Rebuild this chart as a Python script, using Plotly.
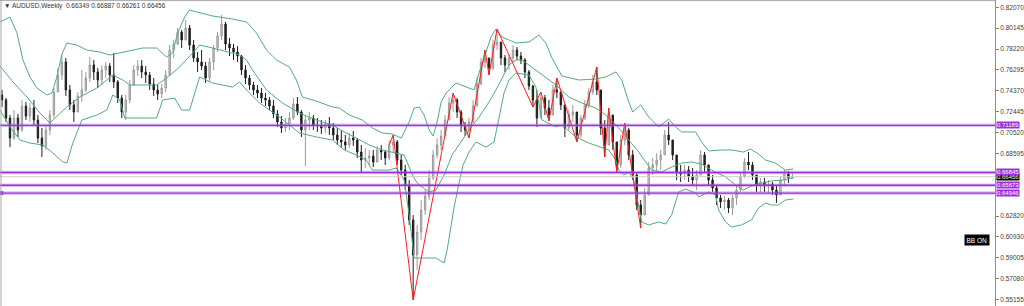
import plotly.graph_objects as go

# ---------------- data ----------------
symbol_title = "AUDUSD,Weekly  0.66349 0.66887 0.66261 0.66456"
first_open = 0.7399

closes = [0.7353, 0.7187, 0.7002, 0.7187, 0.7076, 0.7297, 0.7205, 0.7279, 0.7168, 0.7002,
          0.6929, 0.7076, 0.7214, 0.7426, 0.7583, 0.7703, 0.7445, 0.7307, 0.7242, 0.7390,
          0.7445, 0.7555, 0.7675, 0.7611, 0.7537, 0.7629, 0.7666, 0.7583, 0.7519, 0.7371,
          0.7242, 0.7353, 0.7491, 0.7629, 0.7666, 0.7611, 0.7583, 0.7500, 0.7445, 0.7408,
          0.7463, 0.7583, 0.7813, 0.7869, 0.7979, 0.7906, 0.8016, 0.7859, 0.7740, 0.7703,
          0.7666, 0.7555, 0.7703, 0.7832, 0.7943, 0.8053, 0.7869, 0.7832, 0.7795, 0.7758,
          0.7629, 0.7555, 0.7491, 0.7445, 0.7417, 0.7371, 0.7353, 0.7297, 0.7224, 0.7150,
          0.7095, 0.7131, 0.7187, 0.7316, 0.7242, 0.7076, 0.7168, 0.7187, 0.7122, 0.7113,
          0.7095, 0.7131, 0.7095, 0.7030, 0.6984, 0.6966, 0.6938, 0.7002, 0.6984, 0.6873,
          0.6800, 0.6818, 0.6836, 0.6781, 0.6892, 0.6873, 0.6818, 0.6938, 0.6966, 0.6800,
          0.6707, 0.6569, 0.6247, 0.5924, 0.6136, 0.6339, 0.6468, 0.6634, 0.6846, 0.6938,
          0.7021, 0.7168, 0.7325, 0.7353, 0.7242, 0.7113, 0.7076, 0.7150, 0.7297, 0.7500,
          0.7703, 0.7740, 0.7647, 0.7859, 0.7887, 0.7740, 0.7675, 0.7740, 0.7813, 0.7758,
          0.7721, 0.7611, 0.7482, 0.7353, 0.7187, 0.7371, 0.7279, 0.7214, 0.7445, 0.7426,
          0.7307, 0.7095, 0.7214, 0.7242, 0.7030, 0.7187, 0.7307, 0.7426, 0.7519, 0.7445,
          0.7095, 0.6938, 0.7214, 0.6966, 0.6754, 0.6984, 0.7076, 0.6846, 0.6661, 0.6385,
          0.6293, 0.6477, 0.6726, 0.6754, 0.6800, 0.6846, 0.7030, 0.6984, 0.6846, 0.6689,
          0.6671, 0.6707, 0.6652, 0.6615, 0.6661, 0.6846, 0.6754, 0.6615, 0.6542, 0.6449,
          0.6413, 0.6431, 0.6357, 0.6449, 0.6523, 0.6652, 0.6781, 0.6754, 0.6661, 0.6569,
          0.6597, 0.6560, 0.6578, 0.6523, 0.6477, 0.6615, 0.6671, 0.66349, 0.66456]

highs = [0.7445, 0.7371, 0.7214, 0.7260, 0.7224, 0.7353, 0.7334, 0.7325, 0.7353, 0.7214,
         0.7095, 0.7122, 0.7260, 0.7463, 0.7647, 0.7767, 0.7740, 0.7491, 0.7353, 0.7426,
         0.7629, 0.7611, 0.7749, 0.7721, 0.7647, 0.7675, 0.7703, 0.7693, 0.7786, 0.7537,
         0.7399, 0.7399, 0.7537, 0.7675, 0.7721, 0.7721, 0.7666, 0.7611, 0.7555, 0.7491,
         0.7500, 0.7629, 0.7859, 0.7906, 0.8016, 0.7998, 0.8090, 0.8044, 0.7906, 0.7795,
         0.7813, 0.7703, 0.7740, 0.7859, 0.7979, 0.8136, 0.8072, 0.7924, 0.7869, 0.7850,
         0.7767, 0.7675, 0.7583, 0.7519, 0.7491, 0.7463, 0.7417, 0.7380, 0.7353, 0.7260,
         0.7205, 0.7187, 0.7242, 0.7371, 0.7380, 0.7260, 0.7214, 0.7242, 0.7214, 0.7187,
         0.7168, 0.7168, 0.7196, 0.7141, 0.7095, 0.7076, 0.7030, 0.7049, 0.7067, 0.7002,
         0.6938, 0.6910, 0.6892, 0.6892, 0.6929, 0.6938, 0.6892, 0.6984, 0.7030, 0.6984,
         0.6846, 0.6754, 0.6615, 0.6293, 0.6201, 0.6431, 0.6523, 0.6707, 0.6892, 0.7002,
         0.7076, 0.7214, 0.7380, 0.7417, 0.7371, 0.7260, 0.7150, 0.7187, 0.7353, 0.7565,
         0.7740, 0.7813, 0.7740, 0.7906, 0.8007, 0.7859, 0.7767, 0.7767, 0.7859, 0.7841,
         0.7795, 0.7740, 0.7629, 0.7491, 0.7445, 0.7426, 0.7399, 0.7353, 0.7491, 0.7555,
         0.7426, 0.7307, 0.7260, 0.7307, 0.7242, 0.7214, 0.7353, 0.7463, 0.7583, 0.7657,
         0.7399, 0.7168, 0.7279, 0.7168, 0.6938, 0.7030, 0.7141, 0.7095, 0.6892, 0.6689,
         0.6431, 0.6542, 0.6781, 0.6818, 0.6864, 0.6892, 0.7076, 0.7150, 0.6984, 0.6800,
         0.6754, 0.6754, 0.6744, 0.6726, 0.6707, 0.6892, 0.6873, 0.6754, 0.6661, 0.6569,
         0.6477, 0.6468, 0.6449, 0.6477, 0.6569, 0.6689, 0.6818, 0.6873, 0.6781, 0.6661,
         0.6634, 0.6634, 0.6615, 0.6597, 0.6560, 0.6643, 0.6707, 0.6698, 0.66887]

lows = [0.7288, 0.7150, 0.6919, 0.6984, 0.7012, 0.7058, 0.7168, 0.7150, 0.7113, 0.6956,
        0.6827, 0.6892, 0.7030, 0.7187, 0.7426, 0.7537, 0.7390, 0.7260, 0.7150, 0.7242,
        0.7334, 0.7426, 0.7519, 0.7537, 0.7463, 0.7491, 0.7555, 0.7519, 0.7463, 0.7325,
        0.7187, 0.7168, 0.7325, 0.7491, 0.7574, 0.7555, 0.7509, 0.7445, 0.7390, 0.7353,
        0.7371, 0.7426, 0.7574, 0.7740, 0.7859, 0.7832, 0.7906, 0.7813, 0.7703, 0.7611,
        0.7629, 0.7509, 0.7519, 0.7629, 0.7795, 0.7906, 0.7813, 0.7758, 0.7721, 0.7703,
        0.7583, 0.7500, 0.7445, 0.7399, 0.7371, 0.7325, 0.7297, 0.7260, 0.7187, 0.7104,
        0.7049, 0.7058, 0.7076, 0.7168, 0.7214, 0.7012, 0.6744, 0.7076, 0.7076, 0.7058,
        0.7039, 0.7049, 0.7030, 0.6984, 0.6938, 0.6910, 0.6892, 0.6910, 0.6929, 0.6818,
        0.6680, 0.6726, 0.6744, 0.6735, 0.6781, 0.6800, 0.6754, 0.6800, 0.6873, 0.6754,
        0.6661, 0.6523, 0.6201, 0.5509, 0.5786, 0.6062, 0.6293, 0.6431, 0.6615, 0.6818,
        0.6892, 0.7030, 0.7168, 0.7242, 0.7187, 0.7058, 0.7021, 0.7002, 0.7150, 0.7307,
        0.7491, 0.7647, 0.7583, 0.7629, 0.7813, 0.7675, 0.7611, 0.7629, 0.7703, 0.7721,
        0.7684, 0.7555, 0.7445, 0.7288, 0.7104, 0.7187, 0.7214, 0.7159, 0.7260, 0.7371,
        0.7260, 0.7012, 0.7076, 0.7150, 0.6966, 0.7002, 0.7168, 0.7279, 0.7399, 0.7399,
        0.7030, 0.6827, 0.7030, 0.6892, 0.6689, 0.6726, 0.6938, 0.6800, 0.6615, 0.6339,
        0.6173, 0.6293, 0.6477, 0.6661, 0.6689, 0.6707, 0.6873, 0.6938, 0.6800, 0.6615,
        0.6597, 0.6615, 0.6597, 0.6560, 0.6523, 0.6689, 0.6689, 0.6560, 0.6505, 0.6385,
        0.6357, 0.6339, 0.6311, 0.6293, 0.6385, 0.6505, 0.6634, 0.6707, 0.6615, 0.6505,
        0.6505, 0.6505, 0.6496, 0.6477, 0.6403, 0.6477, 0.6569, 0.6588, 0.66261]

# Bollinger band lines (bar position, price)
bb_up_pos = [-0.5, 2, 3.75, 5.25, 7, 8.75, 11.25, 12.5, 13.75, 15, 16.25, 18.75, 21.25, 24.5, 27,
             30.25, 35.25, 38.75, 41.25, 42.75, 44, 45.75, 47, 48.75, 52.75, 57.75, 61.25, 63.75,
             66.25, 68.75, 72, 73.75, 75.25, 78.75, 82.75, 84.5, 87, 90.25, 92.75, 95.25, 97.75,
             100, 102, 103.25, 104.5, 105.75, 107, 108, 109, 110, 111.25, 113.75, 116.25, 118.25,
             119.5, 120.75, 122.5, 123.75, 125.25, 128.75, 132, 134.5, 136.25, 137.75, 140.25,
             144.5, 148.75, 151.25, 153.75, 155.25, 157, 158, 160, 162, 164.5, 167, 168.75,
             170.25, 173.75, 175.25, 177, 180.25, 182.75, 185.75, 187.5, 189.5, 191.25, 193.75,
             196.25, 198.25]
bb_up = [0.8072, 0.8117, 0.7970, 0.7721, 0.7565, 0.7463, 0.7399, 0.7417, 0.7565, 0.7776, 0.7878,
         0.7859, 0.7813, 0.7795, 0.7767, 0.7795, 0.7832, 0.7832, 0.7749, 0.7786, 0.7970, 0.8117,
         0.8182, 0.8164, 0.8127, 0.8099, 0.8072, 0.7970, 0.7813, 0.7721, 0.7657, 0.7537, 0.7380,
         0.7343, 0.7288, 0.7279, 0.7214, 0.7168, 0.7095, 0.7049, 0.7039, 0.7002, 0.7150, 0.7279,
         0.7288, 0.7214, 0.7076, 0.7021, 0.7150, 0.7334, 0.7417, 0.7509, 0.7472, 0.7445, 0.7602,
         0.7749, 0.7933, 0.8007, 0.7933, 0.7878, 0.7887, 0.7952, 0.7878, 0.7740, 0.7574, 0.7537,
         0.7546, 0.7565, 0.7611, 0.7537, 0.7334, 0.7242, 0.7307, 0.7196, 0.7104, 0.7177, 0.7104,
         0.7058, 0.7058, 0.6966, 0.6883, 0.6892, 0.6892, 0.6873, 0.6901, 0.6855, 0.6800, 0.6772,
         0.6707, 0.6717]

bb_mid_pos = [-0.5, 2.75, 6.25, 9.5, 12, 16.25, 19.5, 23.75, 27.75, 30.25, 32, 38.75, 41.25, 44.5,
              47.75, 49.5, 52.75, 56.25, 59.5, 61.25, 62.75, 66.25, 70.25, 74.5, 78.75, 82.75,
              85.75, 88.75, 92, 95.25, 98.75, 100.75, 102.5, 103.5, 104.5, 107, 108.75, 110.75,
              112.75, 115, 117, 119.5, 122, 123.75, 125.25, 127, 128.75, 130.25, 132, 135.25,
              138.75, 142, 145.25, 148.75, 151.25, 154.5, 156.25, 157.75, 159.5, 161.25, 162.75,
              165.25, 167.75, 170.25, 172.75, 175.25, 177.75, 181.25, 183.75, 185.75, 187.75,
              190.25, 192.75, 195.75, 198.25]
bb_mid = [0.7666, 0.7519, 0.7380, 0.7233, 0.7141, 0.7288, 0.7380, 0.7463, 0.7583, 0.7537, 0.7491,
          0.7491, 0.7555, 0.7657, 0.7786, 0.7859, 0.7832, 0.7795, 0.7767, 0.7721, 0.7629, 0.7445,
          0.7325, 0.7233, 0.7168, 0.7122, 0.7058, 0.7002, 0.6938, 0.6892, 0.6864, 0.6846, 0.6689,
          0.6615, 0.6569, 0.6505, 0.6523, 0.6661, 0.6846, 0.6966, 0.7076, 0.7196, 0.7334, 0.7445,
          0.7555, 0.7675, 0.7721, 0.7721, 0.7675, 0.7583, 0.7491, 0.7380, 0.7325, 0.7279, 0.7214,
          0.7095, 0.7021, 0.6956, 0.6873, 0.6781, 0.6707, 0.6689, 0.6735, 0.6772, 0.6781, 0.6763,
          0.6707, 0.6643, 0.6569, 0.6523, 0.6560, 0.6588, 0.6606, 0.6615, 0.6634]

bb_low_pos = [-0.5, 2, 4.5, 7, 10.25, 12.75, 15.25, 16.25, 17.75, 20, 23.75, 26.25, 27.75, 29.5,
              30.75, 33.25, 38.75, 40.25, 43.25, 45, 47, 49.5, 52.75, 57.75, 59.5, 61.25, 64.5,
              69.5, 72.75, 74.5, 78.75, 82.75, 85.75, 88.75, 91.25, 92.75, 97, 98.75, 100.75, 102,
              103.25, 105.75, 108.75, 110.75, 111.5, 112.25, 113.25, 114.5, 115.5, 117, 118.75,
              121.25, 123.25, 124.5, 125.75, 127, 128.75, 132, 133.75, 135.25, 138.75, 140.25,
              143.75, 147, 150.25, 152, 153.75, 154.5, 155.75, 157, 158.25, 159.5, 160.25, 162,
              164.5, 166.25, 167.75, 169.5, 171.25, 173.75, 174.5, 177, 178.75, 179.5, 181.25,
              182.75, 185.25, 187.75, 189.5, 191.25, 192.75, 194.5, 196.25, 198.25]
bb_low = [0.7260, 0.7104, 0.6984, 0.6956, 0.6938, 0.6864, 0.6781, 0.6772, 0.6956, 0.7168, 0.7214,
          0.7260, 0.7399, 0.7353, 0.7187, 0.7187, 0.7187, 0.7353, 0.7371, 0.7260, 0.7260, 0.7565,
          0.7509, 0.7472, 0.7519, 0.7445, 0.7325, 0.7196, 0.7104, 0.7049, 0.7012, 0.6984, 0.6892,
          0.6846, 0.6800, 0.6707, 0.6707, 0.6726, 0.6615, 0.6293, 0.5896, 0.5896, 0.5896, 0.5850,
          0.5970, 0.6136, 0.6366, 0.6588, 0.6754, 0.6873, 0.6966, 0.6919, 0.6966, 0.7187, 0.7417,
          0.7537, 0.7602, 0.7583, 0.7472, 0.7168, 0.7104, 0.7122, 0.7012, 0.6956, 0.6919, 0.6892,
          0.6800, 0.6707, 0.6661, 0.6689, 0.6615, 0.6385, 0.6228, 0.6201, 0.6228, 0.6210, 0.6293,
          0.6505, 0.6532, 0.6496, 0.6459, 0.6505, 0.6477, 0.6339, 0.6228, 0.6182, 0.6201, 0.6247,
          0.6357, 0.6403, 0.6385, 0.6385, 0.6431, 0.6440]

# ZigZag swing points (bar position, price)
zz_pos = [97, 98, 103, 113, 117, 121, 122, 124, 133, 135, 137, 139, 144, 149, 151, 152, 154, 156, 160]
zz_price = [0.6938, 0.7030, 0.5509, 0.7417, 0.7002, 0.7813, 0.7583, 0.8007, 0.7288, 0.7426,
            0.7159, 0.7555, 0.6966, 0.7657, 0.6827, 0.7279, 0.6689, 0.7141, 0.6173]

# horizontal levels
level_prices = [0.71189, 0.66845, 0.65673, 0.64946]
level_labels = ["0.71189", "0.66845", "0.65673", "0.64946"]
current_price = 0.66456

# price scale labels
tick_vals = [0.82070, 0.80145, 0.78220, 0.76295, 0.74370, 0.72445, 0.70520, 0.68595,
             0.62820, 0.60930, 0.59005, 0.57080, 0.55155]
tick_text = ["0.82070", "0.80145", "0.78220", "0.76295", "0.74370", "0.72445", "0.70520",
             "0.68595", "0.62820", "0.60930", "0.59005", "0.57080", "0.55155"]

# ---------------- build ----------------
n = min(len(closes), len(highs), len(lows))
pos = list(range(n))
opens = [first_open] + closes[:n - 1]
hi = [max(highs[i], opens[i], closes[i]) for i in range(n)]
lo = [min(lows[i], opens[i], closes[i]) for i in range(n)]

PURPLE = "#9b30d9"
GREEN = "#52ad7c"
FONT = "Liberation Sans, Arial, sans-serif"

fig = go.Figure()

fig.add_trace(go.Candlestick(
    x=pos, open=opens[:n], high=hi, low=lo, close=closes[:n],
    increasing=dict(line=dict(color="#9a9a9a", width=1), fillcolor="#d2d2d2"),
    decreasing=dict(line=dict(color="#1e1e1e", width=1), fillcolor="#1e1e1e"),
    whiskerwidth=0, hoverinfo="skip", showlegend=False))

for bx, by in ((bb_up_pos, bb_up), (bb_mid_pos, bb_mid), (bb_low_pos, bb_low)):
    fig.add_trace(go.Scatter(x=bx, y=by, mode="lines", line=dict(color=GREEN, width=1),
                             hoverinfo="skip", showlegend=False))

fig.add_trace(go.Scatter(x=zz_pos, y=zz_price, mode="lines",
                         line=dict(color="#ff1a1a", width=1),
                         hoverinfo="skip", showlegend=False))

shapes = []
# current price line (light grey)
shapes.append(dict(type="line", xref="paper", x0=0, x1=1, yref="y", y0=current_price,
                   y1=current_price, line=dict(color="#cccccc", width=1), layer="above"))
for p in level_prices:
    shapes.append(dict(type="line", xref="paper", x0=0, x1=1, yref="y", y0=p, y1=p,
                       line=dict(color="rgba(175,95,232,0.40)", width=3.5), layer="above"))
    shapes.append(dict(type="line", xref="paper", x0=0, x1=1, yref="y", y0=p, y1=p,
                       line=dict(color=PURPLE, width=1.4), layer="above"))
# frame lines (top and left)
shapes.append(dict(type="line", xref="paper", x0=0, x1=1, yref="paper", y0=0.998, y1=0.998,
                   line=dict(color="#a8a8a8", width=1)))
shapes.append(dict(type="line", xref="paper", x0=0.001, x1=0.001, yref="paper", y0=0, y1=1,
                   line=dict(color="#a8a8a8", width=1)))

# small square marker at the start of the lowest level
fig.add_trace(go.Scatter(x=[-0.2], y=[level_prices[3]], mode="markers",
                         marker=dict(symbol="square", size=4, color=PURPLE),
                         hoverinfo="skip", showlegend=False))

annotations = []
annotations.append(dict(xref="paper", yref="paper", x=0, y=1, xanchor="left", yanchor="top",
                        xshift=2, yshift=0, showarrow=False,
                        text="\u25bc " + symbol_title,
                        font=dict(family=FONT, size=6.5, color="#333333")))
# current price label (black), drawn before purple so purple sits on top
annotations.append(dict(xref="paper", yref="y", x=1, y=current_price, xanchor="left",
                        yanchor="middle", xshift=1, showarrow=False, text="0.66456",
                        bgcolor="#000000", borderpad=0,
                        font=dict(family=FONT, size=6, color="#ffffff")))
for p, t in zip(level_prices, level_labels):
    annotations.append(dict(xref="paper", yref="y", x=1, y=p, xanchor="left", yanchor="middle",
                            xshift=1, showarrow=False, text=t, bgcolor=PURPLE, borderpad=0,
                            font=dict(family=FONT, size=6, color="#ffffff")))
annotations.append(dict(xref="paper", yref="y", x=0.982, y=0.6062, xanchor="center",
                        yanchor="middle", showarrow=False, text="BB ON", bgcolor="#000000",
                        borderpad=1.5, font=dict(family=FONT, size=6.5, color="#ffffff")))

fig.update_layout(
    width=1024, height=306,
    margin=dict(l=0, r=27, t=0, b=0),
    paper_bgcolor="#ffffff", plot_bgcolor="#ffffff",
    shapes=shapes, annotations=annotations,
    showlegend=False, boxgap=0.5,
    xaxis=dict(range=[-0.5, 248.75], visible=False, rangeslider=dict(visible=False),
               fixedrange=True),
    yaxis=dict(range=[0.54540, 0.82743], side="right", showgrid=False, zeroline=False,
               tickmode="array", tickvals=tick_vals, ticktext=tick_text,
               ticks="outside", ticklen=3, tickcolor="#808080",
               showline=True, linecolor="#909090", linewidth=1,
               tickfont=dict(family=FONT, size=6.5, color="#404040"), fixedrange=True),
)

fig.write_html("out.html", config={"displayModeBar": False})
